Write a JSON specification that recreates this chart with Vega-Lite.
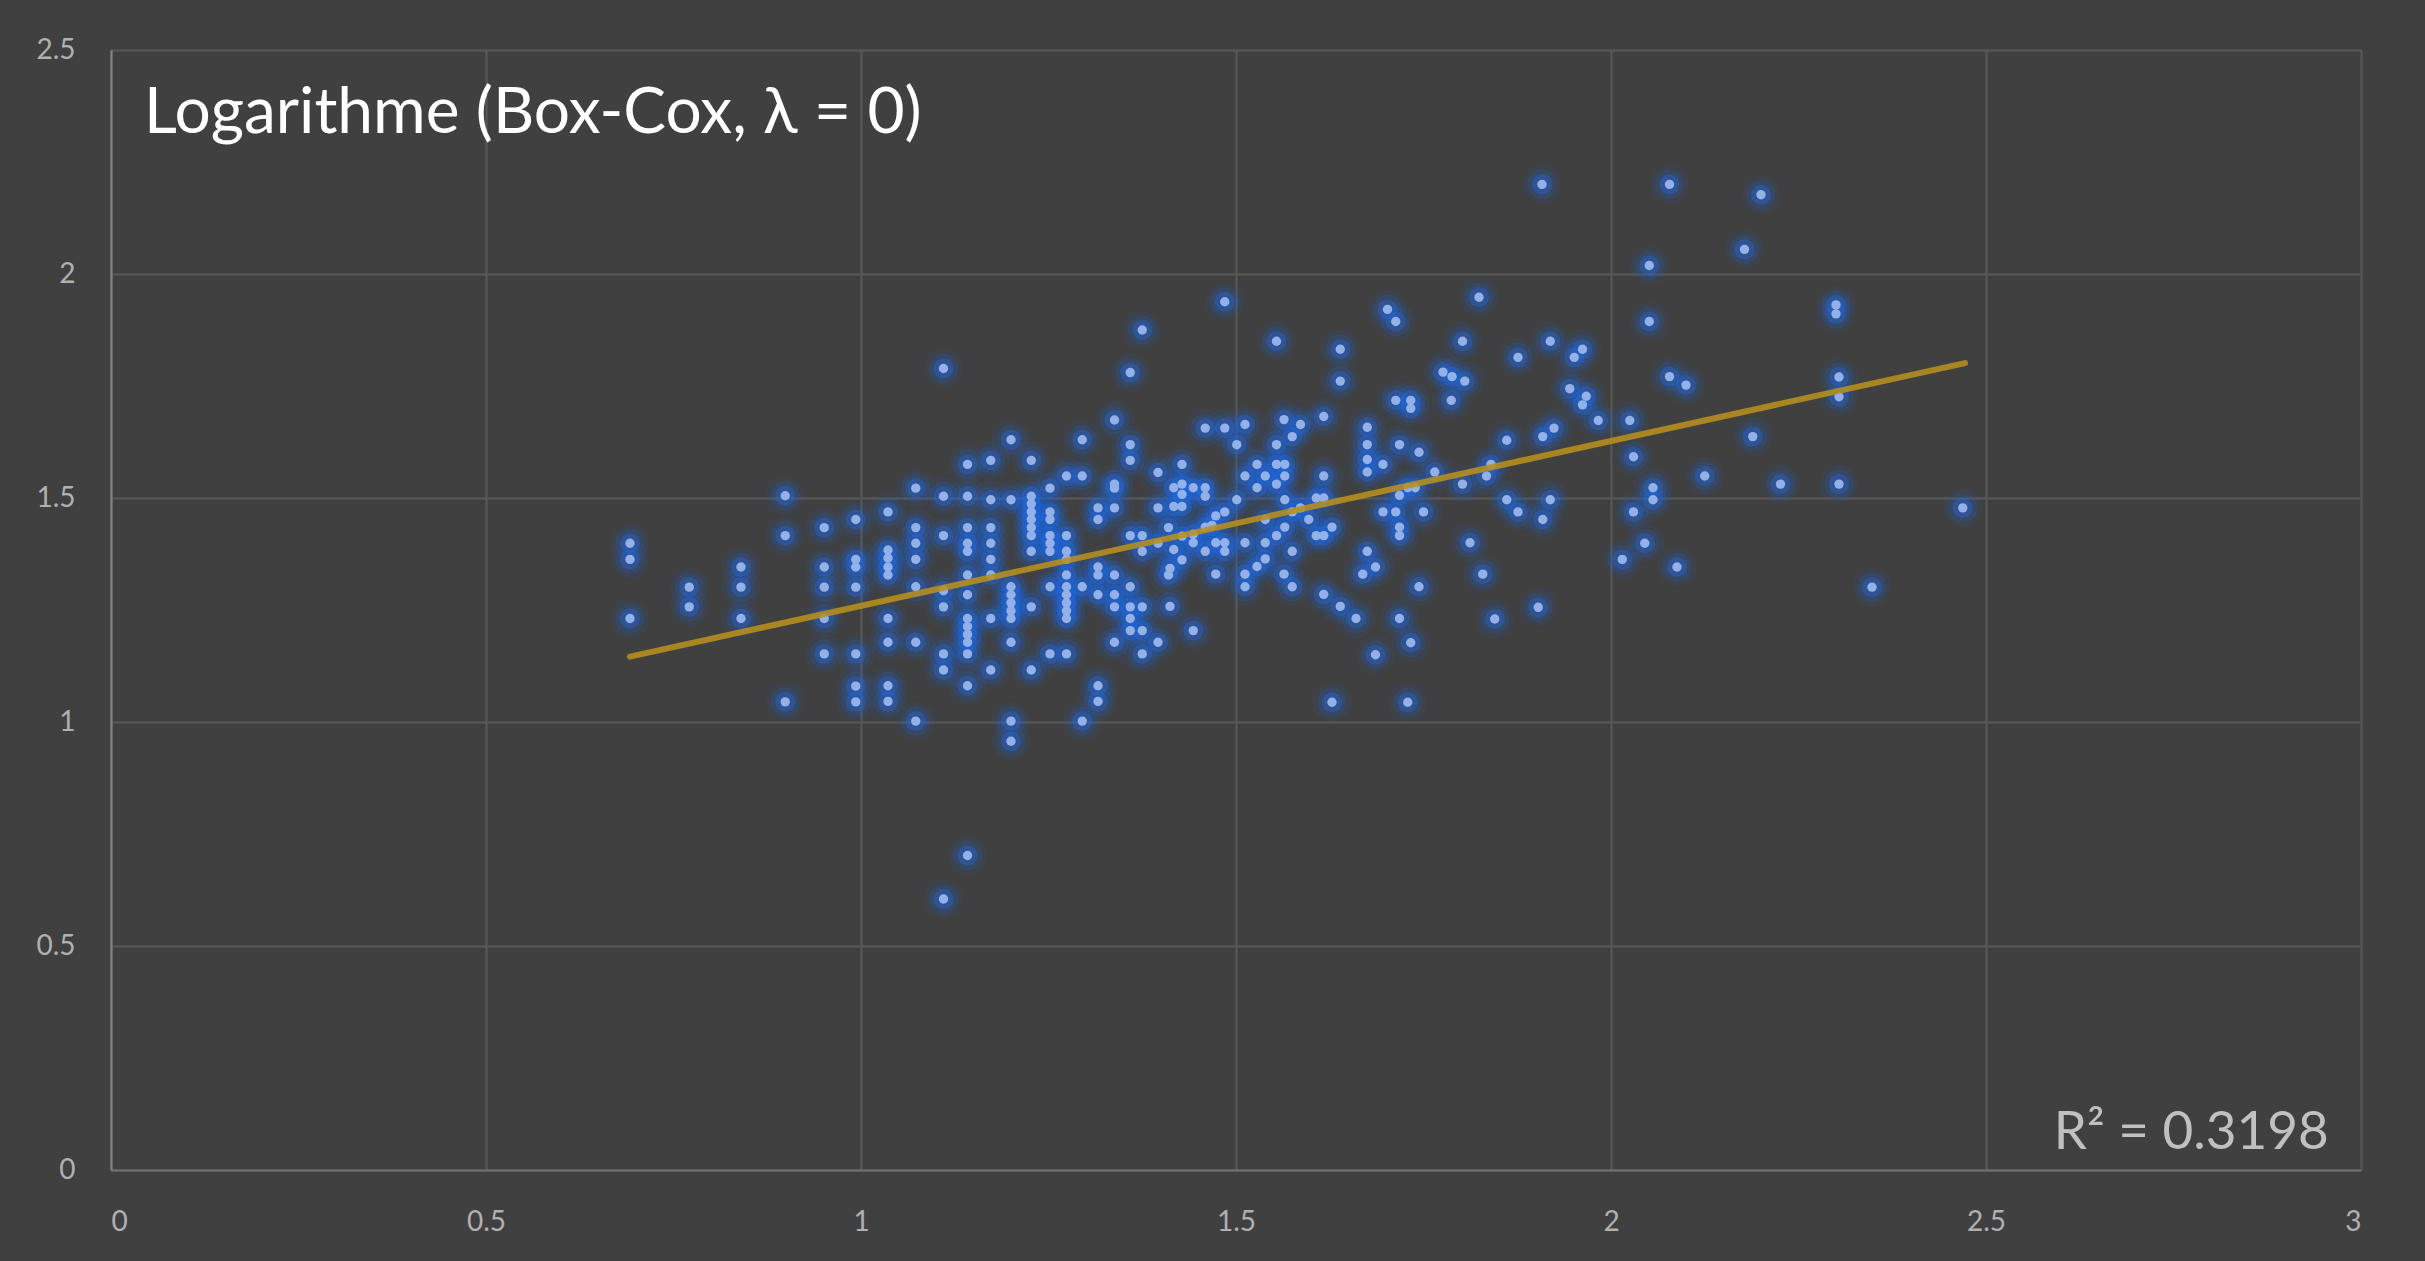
{
  "$schema": "https://vega.github.io/schema/vega-lite/v6.json",
  "width": 2250,
  "height": 1120,
  "autosize": "none",
  "padding": {"left": 111, "top": 50, "right": 64, "bottom": 91},
  "background": "#404040",
  "config": {
    "view": {"stroke": null},
    "axis": {"labelFont": "Lato", "labelFontSize": 28, "labelColor": "#b0b0b0", "ticks": false, "title": null, "gridColor": "#595959", "gridWidth": 2, "domainWidth": 2, "format": "~g"}
  },
  "datasets": {
    "points": [
      {"x":0.692,"y":1.399},{"x":0.692,"y":1.363},{"x":0.692,"y":1.231},
      {"x":0.771,"y":1.301},{"x":0.771,"y":1.257},
      {"x":0.840,"y":1.346},{"x":0.840,"y":1.301},{"x":0.840,"y":1.231},
      {"x":0.899,"y":1.505},{"x":0.899,"y":1.416},{"x":0.899,"y":1.045},
      {"x":0.951,"y":1.434},{"x":0.951,"y":1.346},{"x":0.951,"y":1.301},{"x":0.951,"y":1.231},{"x":0.951,"y":1.152},
      {"x":0.993,"y":1.452},{"x":0.993,"y":1.363},{"x":0.993,"y":1.346},{"x":0.993,"y":1.301},{"x":0.993,"y":1.152},{"x":0.993,"y":1.080},{"x":0.993,"y":1.045},
      {"x":1.036,"y":1.469},{"x":1.036,"y":1.384},{"x":1.036,"y":1.366},{"x":1.036,"y":1.346},{"x":1.036,"y":1.328},{"x":1.036,"y":1.231},{"x":1.036,"y":1.178},{"x":1.036,"y":1.081},{"x":1.036,"y":1.046},
      {"x":1.073,"y":1.522},{"x":1.073,"y":1.434},{"x":1.073,"y":1.399},{"x":1.073,"y":1.363},{"x":1.073,"y":1.302},{"x":1.073,"y":1.178},{"x":1.073,"y":1.002},
      {"x":1.110,"y":1.789},{"x":1.110,"y":1.504},{"x":1.110,"y":1.416},{"x":1.110,"y":1.293},{"x":1.110,"y":1.257},{"x":1.110,"y":1.152},{"x":1.110,"y":1.116},{"x":1.110,"y":0.605},
      {"x":1.142,"y":1.575},{"x":1.142,"y":1.504},{"x":1.142,"y":1.434},{"x":1.142,"y":1.399},{"x":1.142,"y":1.381},{"x":1.142,"y":1.328},{"x":1.142,"y":1.284},{"x":1.142,"y":1.231},{"x":1.142,"y":1.213},{"x":1.142,"y":1.195},{"x":1.142,"y":1.178},{"x":1.142,"y":1.152},{"x":1.142,"y":1.081},{"x":1.142,"y":0.702},
      {"x":1.173,"y":1.584},{"x":1.173,"y":1.496},{"x":1.173,"y":1.434},{"x":1.173,"y":1.399},{"x":1.173,"y":1.363},{"x":1.173,"y":1.328},{"x":1.173,"y":1.231},{"x":1.173,"y":1.116},
      {"x":1.200,"y":1.630},{"x":1.200,"y":1.496},{"x":1.200,"y":1.302},{"x":1.200,"y":1.284},{"x":1.200,"y":1.266},{"x":1.200,"y":1.248},{"x":1.200,"y":1.231},{"x":1.200,"y":1.178},{"x":1.200,"y":1.002},{"x":1.200,"y":0.957},
      {"x":1.227,"y":1.584},{"x":1.227,"y":1.504},{"x":1.227,"y":1.487},{"x":1.227,"y":1.469},{"x":1.227,"y":1.452},{"x":1.227,"y":1.434},{"x":1.227,"y":1.416},{"x":1.227,"y":1.381},{"x":1.227,"y":1.257},{"x":1.227,"y":1.116},
      {"x":1.252,"y":1.522},{"x":1.252,"y":1.469},{"x":1.252,"y":1.452},{"x":1.252,"y":1.416},{"x":1.252,"y":1.399},{"x":1.252,"y":1.381},{"x":1.252,"y":1.302},{"x":1.252,"y":1.152},
      {"x":1.274,"y":1.549},{"x":1.274,"y":1.416},{"x":1.274,"y":1.381},{"x":1.274,"y":1.363},{"x":1.274,"y":1.328},{"x":1.274,"y":1.302},{"x":1.274,"y":1.284},{"x":1.274,"y":1.266},{"x":1.274,"y":1.248},{"x":1.274,"y":1.231},{"x":1.274,"y":1.152},
      {"x":1.295,"y":1.630},{"x":1.295,"y":1.549},{"x":1.295,"y":1.302},{"x":1.295,"y":1.002},
      {"x":1.316,"y":1.478},{"x":1.316,"y":1.452},{"x":1.316,"y":1.346},{"x":1.316,"y":1.328},{"x":1.316,"y":1.284},{"x":1.316,"y":1.081},{"x":1.316,"y":1.046},
      {"x":1.338,"y":1.674},{"x":1.338,"y":1.531},{"x":1.338,"y":1.522},{"x":1.338,"y":1.478},{"x":1.338,"y":1.328},{"x":1.338,"y":1.284},{"x":1.338,"y":1.257},{"x":1.338,"y":1.178},
      {"x":1.359,"y":1.780},{"x":1.359,"y":1.619},{"x":1.359,"y":1.584},{"x":1.359,"y":1.416},{"x":1.359,"y":1.302},{"x":1.359,"y":1.257},{"x":1.359,"y":1.231},{"x":1.359,"y":1.204},
      {"x":1.375,"y":1.875},{"x":1.375,"y":1.416},{"x":1.375,"y":1.381},{"x":1.375,"y":1.257},{"x":1.375,"y":1.204},{"x":1.375,"y":1.152},
      {"x":1.396,"y":1.557},{"x":1.396,"y":1.478},{"x":1.396,"y":1.399},{"x":1.396,"y":1.178},
      {"x":1.410,"y":1.434},{"x":1.410,"y":1.328},
      {"x":1.485,"y":1.938},{"x":1.554,"y":1.850},{"x":1.639,"y":1.832},{"x":1.639,"y":1.761},{"x":1.702,"y":1.921},{"x":1.713,"y":1.894},{"x":1.802,"y":1.850},{"x":1.776,"y":1.781},{"x":1.788,"y":1.771},{"x":1.805,"y":1.761},{"x":1.787,"y":1.718},{"x":1.713,"y":1.718},{"x":1.733,"y":1.718},{"x":1.733,"y":1.700},
      {"x":1.617,"y":1.682},{"x":1.564,"y":1.675},{"x":1.586,"y":1.664},{"x":1.575,"y":1.637},{"x":1.554,"y":1.619},{"x":1.459,"y":1.656},{"x":1.485,"y":1.656},{"x":1.512,"y":1.664},{"x":1.501,"y":1.619},
      {"x":1.428,"y":1.575},{"x":1.528,"y":1.575},{"x":1.512,"y":1.549},{"x":1.539,"y":1.549},{"x":1.554,"y":1.575},{"x":1.565,"y":1.575},{"x":1.565,"y":1.549},{"x":1.554,"y":1.531},{"x":1.528,"y":1.523},
      {"x":1.417,"y":1.523},{"x":1.428,"y":1.531},{"x":1.428,"y":1.508},{"x":1.443,"y":1.523},{"x":1.459,"y":1.523},{"x":1.459,"y":1.504},{"x":1.428,"y":1.481},{"x":1.417,"y":1.481},
      {"x":1.501,"y":1.496},{"x":1.565,"y":1.496},{"x":1.617,"y":1.549},{"x":1.607,"y":1.500},{"x":1.617,"y":1.500},{"x":1.586,"y":1.478},{"x":1.575,"y":1.469},{"x":1.539,"y":1.452},
      {"x":1.485,"y":1.469},{"x":1.473,"y":1.460},{"x":1.468,"y":1.439},{"x":1.459,"y":1.435},{"x":1.443,"y":1.419},{"x":1.428,"y":1.415},{"x":1.565,"y":1.435},{"x":1.554,"y":1.416},
      {"x":1.597,"y":1.452},{"x":1.607,"y":1.416},{"x":1.617,"y":1.416},{"x":1.628,"y":1.435},{"x":1.473,"y":1.400},{"x":1.485,"y":1.400},{"x":1.485,"y":1.381},{"x":1.443,"y":1.400},
      {"x":1.417,"y":1.385},{"x":1.428,"y":1.362},{"x":1.412,"y":1.343},{"x":1.459,"y":1.381},{"x":1.512,"y":1.400},{"x":1.539,"y":1.400},{"x":1.575,"y":1.381},{"x":1.539,"y":1.364},{"x":1.528,"y":1.347},
      {"x":1.473,"y":1.330},{"x":1.512,"y":1.330},{"x":1.512,"y":1.302},{"x":1.564,"y":1.330},{"x":1.575,"y":1.302},{"x":1.617,"y":1.285},{"x":1.639,"y":1.258},{"x":1.660,"y":1.231},{"x":1.412,"y":1.258},{"x":1.443,"y":1.204},
      {"x":1.675,"y":1.658},{"x":1.675,"y":1.619},{"x":1.675,"y":1.586},{"x":1.675,"y":1.558},{"x":1.696,"y":1.575},{"x":1.718,"y":1.619},{"x":1.744,"y":1.602},{"x":1.765,"y":1.558},{"x":1.802,"y":1.531},
      {"x":1.718,"y":1.506},{"x":1.729,"y":1.523},{"x":1.739,"y":1.523},{"x":1.696,"y":1.469},{"x":1.713,"y":1.469},{"x":1.718,"y":1.435},{"x":1.718,"y":1.416},{"x":1.750,"y":1.469},{"x":1.812,"y":1.400},
      {"x":1.675,"y":1.381},{"x":1.686,"y":1.346},{"x":1.669,"y":1.330},{"x":1.744,"y":1.302},{"x":1.718,"y":1.231},{"x":1.733,"y":1.177},{"x":1.686,"y":1.150},{"x":1.628,"y":1.044},{"x":1.729,"y":1.044},
      {"x":1.824,"y":1.948},{"x":2.051,"y":2.019},{"x":2.051,"y":1.894},{"x":1.876,"y":1.814},{"x":1.919,"y":1.850},{"x":1.962,"y":1.832},{"x":1.951,"y":1.814},{"x":1.945,"y":1.744},{"x":1.967,"y":1.727},{"x":1.962,"y":1.708},
      {"x":1.983,"y":1.673},{"x":2.025,"y":1.673},{"x":2.078,"y":1.771},{"x":2.100,"y":1.752},{"x":1.861,"y":1.629},{"x":1.909,"y":1.637},{"x":1.924,"y":1.656},{"x":1.840,"y":1.575},{"x":1.834,"y":1.549},
      {"x":2.030,"y":1.592},{"x":2.189,"y":1.637},{"x":2.125,"y":1.549},{"x":2.056,"y":1.523},{"x":2.056,"y":1.496},{"x":2.030,"y":1.469},{"x":1.861,"y":1.496},{"x":1.876,"y":1.469},{"x":1.919,"y":1.496},{"x":1.909,"y":1.452},
      {"x":1.829,"y":1.330},{"x":1.845,"y":1.230},{"x":1.903,"y":1.256},{"x":2.045,"y":1.399},{"x":2.015,"y":1.363},{"x":2.088,"y":1.346},
      {"x":2.200,"y":2.177},{"x":2.178,"y":2.055},{"x":2.300,"y":1.931},{"x":2.300,"y":1.911},{"x":2.304,"y":1.770},{"x":2.304,"y":1.726},{"x":2.226,"y":1.531},{"x":2.304,"y":1.531},{"x":2.469,"y":1.478},{"x":2.348,"y":1.301},
      {"x":1.908,"y":2.200},{"x":2.078,"y":2.200}
    ],
    "trend": [{"x":0.692,"y":1.146},{"x":2.472,"y":1.801}]
  },
  "layer": [
    {
      "data": {"name": "points"},
      "mark": {"type": "circle", "size": 1500, "color": "#1e63dc", "opacity": 0.08},
      "encoding": {
        "x": {"field": "x", "type": "quantitative", "scale": {"domain": [0, 3], "nice": false}, "axis": {"values": [0,0.5,1,1.5,2,2.5,3], "labelPadding": 38, "domainColor": "#6e6e6e"}},
        "y": {"field": "y", "type": "quantitative", "scale": {"domain": [0, 2.5], "nice": false}, "axis": {"values": [0,0.5,1,1.5,2,2.5], "labelPadding": 36, "domainColor": "#858585"}}
      }
    },
    {
      "data": {"name": "points"},
      "mark": {"type": "circle", "size": 850, "color": "#1e63dc", "opacity": 0.17},
      "encoding": {"x": {"field": "x", "type": "quantitative"}, "y": {"field": "y", "type": "quantitative"}}
    },
    {
      "data": {"name": "points"},
      "mark": {"type": "circle", "size": 400, "color": "#1f68e6", "opacity": 0.38},
      "encoding": {"x": {"field": "x", "type": "quantitative"}, "y": {"field": "y", "type": "quantitative"}}
    },
    {
      "data": {"name": "points"},
      "mark": {"type": "circle", "size": 88, "color": "#93b1e8", "opacity": 1},
      "encoding": {"x": {"field": "x", "type": "quantitative"}, "y": {"field": "y", "type": "quantitative"}}
    },
    {
      "data": {"name": "trend"},
      "mark": {"type": "line", "color": "#b8901f", "strokeWidth": 6, "strokeCap": "round", "opacity": 0.88},
      "encoding": {"x": {"field": "x", "type": "quantitative"}, "y": {"field": "y", "type": "quantitative"}}
    },
    {
      "data": {"values": [{"label": "Logarithme (Box-Cox, λ = 0)"}]},
      "mark": {"type": "text", "font": "Lato", "fontSize": 64, "color": "#ffffff", "align": "left", "baseline": "alphabetic"},
      "encoding": {"x": {"datum": 0.044}, "y": {"datum": 2.315}, "text": {"field": "label"}}
    },
    {
      "data": {"values": [{"label": "R² = 0.3198"}]},
      "mark": {"type": "text", "font": "Lato", "fontSize": 53, "color": "#c0c0c0", "align": "right", "baseline": "alphabetic"},
      "encoding": {"x": {"datum": 2.957}, "y": {"datum": 0.047}, "text": {"field": "label"}}
    }
  ]
}
